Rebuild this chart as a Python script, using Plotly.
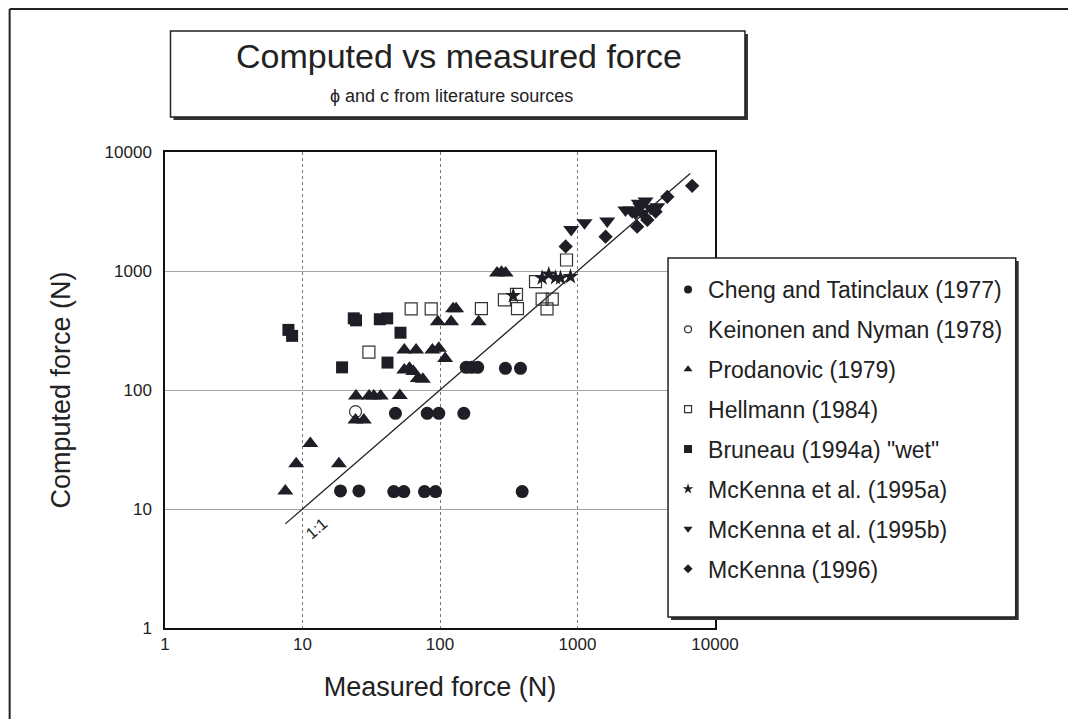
import plotly.graph_objects as go

# ---------------- data ----------------
tick_vals = [1, 10, 100, 1000, 10000]
tick_text = ["1", "10", "100", "1000", "10000"]

cheng_x = [18.9, 25.7, 46.1, 54.6, 77.1, 92.8, 396, 47.4, 80.7, 98, 149, 155, 170, 188, 299, 385]
cheng_y = [14.2, 14.2, 14, 14, 14, 14, 14, 63.7, 63.7, 63.7, 63.7, 155, 155, 155, 152, 152]

keinonen_x = [24.3]
keinonen_y = [65.8]

prod_x = [7.5, 9.0, 11.4, 18.4, 24.3, 27.9, 24.5, 30.5, 33, 37, 51, 55, 67, 88, 98, 109,
          55, 60, 64, 69, 75, 96.4, 120.5, 124.6, 131, 191, 260, 280, 300]
prod_y = [14.2, 24, 35.6, 24, 56, 56, 89, 89, 89, 89, 90, 217, 217, 217, 224, 184,
          147, 152, 143, 125, 123, 375, 375, 481, 481, 375, 960, 975, 960]

hell_x = [30.4, 61.7, 86.3, 200, 294, 360, 366, 495, 553, 655, 600, 832]
hell_y = [208, 480, 480, 482, 571, 637, 483, 813, 580, 580, 480, 1237]

brun_x = [7.9, 8.4, 23.6, 24.5, 36.5, 41.3, 51.6, 19.4, 41.5]
brun_y = [320, 285, 400, 385, 393, 400, 303, 155, 170]

mk95a_x = [341, 553, 618, 692, 752, 889]
mk95a_y = [620, 873, 937, 880, 873, 896]

mk95b_x = [900, 1125, 1645, 2234, 2428, 2500, 2642, 2790, 2870, 2953, 3125, 3398, 3802]
mk95b_y = [2236, 2546, 2630, 3258, 3258, 3150, 3055, 3705, 3470, 3055, 3873, 3365, 3470]

mk96_x = [820, 1600, 2716, 3221, 3698, 4500, 6823]
mk96_y = [1610, 1942, 2356, 2685, 3150, 4200, 5200]

line_x = [7.5, 6600]
line_y = [7.5, 6600]

series_names = ["Cheng and Tatinclaux (1977)", "Keinonen and Nyman (1978)", "Prodanovic (1979)",
                "Hellmann (1984)", 'Bruneau (1994a) "wet"', "McKenna et al. (1995a)",
                "McKenna et al. (1995b)", "McKenna (1996)"]

# ---------------- figure ----------------
W, H = 1076, 727          # browser window
O = 8                     # default page body margin
L, R, T, B = 164.5, 715, 152, 628   # plot area in page pixels
FONT = "Arial, Liberation Sans, sans-serif"
INK = "#1e1e26"

def px(xp):
    return (xp - L) / (R - L)

def py(yp):
    return (B - yp) / (B - T)

series = [
    (cheng_x, cheng_y, "circle", 13, INK, 0),
    (keinonen_x, keinonen_y, "circle-open", 12, "#333", 1.2),
    (prod_x, prod_y, "triangle-up", 14, INK, 0),
    (hell_x, hell_y, "square-open", 12, "#333", 1.2),
    (brun_x, brun_y, "square", 12, INK, 0),
    (mk95a_x, mk95a_y, "star", 12, INK, 0),
    (mk95b_x, mk95b_y, "triangle-down", 14, INK, 0),
    (mk96_x, mk96_y, "diamond", 11, INK, 0),
]
legend_sizes = [8, 7, 8, 7, 8, 8, 8, 7]

fig = go.Figure()

fig.add_trace(go.Scatter(x=line_x, y=line_y, mode="lines",
                         line=dict(color="#222", width=1.3), showlegend=False, hoverinfo="skip"))

for i, (xs, ys, sym, sz, col, lw) in enumerate(series):
    fig.add_trace(go.Scatter(
        x=xs, y=ys, mode="markers", name=series_names[i], showlegend=False,
        marker=dict(symbol=sym, size=sz, color=col,
                    line=dict(width=lw, color=col)),
    ))

for i, (xs, ys, sym, sz, col, lw) in enumerate(series):
    fig.add_trace(go.Scatter(
        x=[None], y=[None], mode="markers", name=series_names[i], legendgroup=f"g{i}",
        marker=dict(symbol=sym, size=legend_sizes[i], color=col,
                    line=dict(width=lw, color=col)),
    ))

axis_common = dict(
    type="log", range=[0, 4], tickvals=tick_vals, ticktext=tick_text,
    showline=True, mirror=True, linecolor="#111", linewidth=1.5,
    ticks="", zeroline=False,
    tickfont=dict(family=FONT, size=17, color="#222"),
)

fig.update_xaxes(**axis_common, showgrid=True, gridcolor="#777", gridwidth=1, griddash="dot",
                 title=dict(text="Measured force (N)", font=dict(family=FONT, size=27, color="#222"),
                            standoff=24))
fig.update_yaxes(**axis_common, showgrid=True, gridcolor="#ad9fa8", gridwidth=1,
                 ticklabelstandoff=8,
                 title=dict(text="Computed force (N)", font=dict(family=FONT, size=27, color="#222"),
                            standoff=26))

shapes = []
# outer frame (left and top)
shapes.append(dict(type="line", xref="paper", yref="paper", x0=px(9), x1=px(9), y0=py(740), y1=py(9),
                   line=dict(color="#222", width=2)))
shapes.append(dict(type="line", xref="paper", yref="paper", x0=px(9), x1=px(1090), y0=py(9), y1=py(9),
                   line=dict(color="#222", width=2)))
# title box with shadow
shapes.append(dict(type="rect", xref="paper", yref="paper", x0=px(173), x1=px(748), y0=py(120), y1=py(34),
                   line=dict(width=0), fillcolor="#333"))
shapes.append(dict(type="rect", xref="paper", yref="paper", x0=px(170), x1=px(745), y0=py(117), y1=py(31),
                   line=dict(color="#222", width=1.5), fillcolor="white"))
# legend box with shadow
shapes.append(dict(type="rect", xref="paper", yref="paper", x0=px(671), x1=px(1019), y0=py(620), y1=py(261),
                   line=dict(width=0), fillcolor="#333"))
shapes.append(dict(type="rect", xref="paper", yref="paper", x0=px(668), x1=px(1016), y0=py(617), y1=py(258),
                   line=dict(color="#222", width=1.5), fillcolor="white"))

annotations = [
    dict(text="Computed vs measured force", xref="paper", yref="paper", x=px(459), y=py(56),
         xanchor="center", yanchor="middle", showarrow=False,
         font=dict(family=FONT, size=34, color="#222")),
    dict(text="ϕ and c from literature sources", xref="paper", yref="paper", x=px(451), y=py(96),
         xanchor="center", yanchor="middle", showarrow=False,
         font=dict(family=FONT, size=18, color="#222")),
    dict(text="1:1", xref="x", yref="y", x=1.1, y=0.84, textangle=-41, showarrow=False,
         font=dict(family=FONT, size=16, color="#222")),
]

fig.update_layout(
    width=W - 2 * O, height=H - 2 * O, autosize=False,
    margin=dict(l=L - O, r=(W - O) - R, t=T - O, b=(H - O) - B, pad=0),
    paper_bgcolor="white", plot_bgcolor="white",
    shapes=shapes, annotations=annotations,
    showlegend=True,
    legend=dict(x=px(668), y=py(268), xanchor="left", yanchor="top",
                bgcolor="rgba(0,0,0,0)", borderwidth=0,
                font=dict(family=FONT, size=23, color="#222"),
                tracegroupgap=7, itemsizing="trace"),
)

fig.write_html("out.html")
